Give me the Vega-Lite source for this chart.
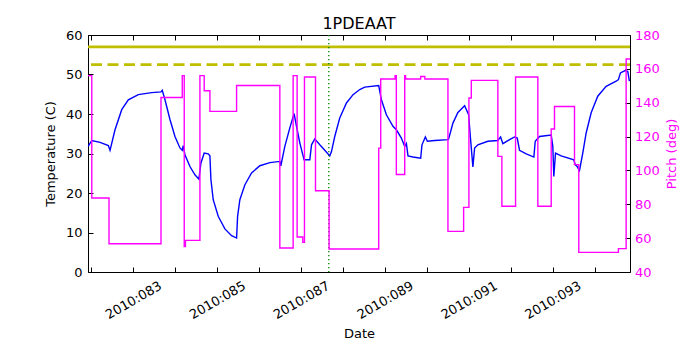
{
  "$schema": "https://vega.github.io/schema/vega-lite/v6.json",
  "width": 542,
  "height": 237,
  "autosize": "none",
  "padding": {"left": 88, "top": 35, "right": 70, "bottom": 78},
  "background": "white",
  "config": {
    "font": "DejaVu Sans",
    "view": {"stroke": "black", "strokeWidth": 1},
    "axis": {"grid": false, "domain": false, "tickColor": "black", "labelFont": "DejaVu Sans", "labelFontSize": 13, "titleFont": "DejaVu Sans", "titleFontSize": 13, "titleFontWeight": "normal", "labelColor": "black", "titleColor": "black", "tickSize": -5}
  },
  "title": {"text": "1PDEAAT", "fontSize": 16, "fontWeight": "normal", "anchor": "middle", "frame": "group", "offset": 7, "baseline": "alphabetic", "dy": 23, "color": "black", "font": "DejaVu Sans"},
  "datasets": {
    "temp": [
      {"d":81.924,"t":31.8},{"d":82.01,"t":33.3},{"d":82.207,"t":32.8},{"d":82.405,"t":32.0},{"d":82.445,"t":30.8},{"d":82.564,"t":36.0},{"d":82.724,"t":41.1},{"d":82.881,"t":43.6},{"d":83.119,"t":44.9},{"d":83.438,"t":45.4},{"d":83.66,"t":45.6},{"d":83.69,"t":46.0},{"d":83.755,"t":43.6},{"d":83.874,"t":38.6},{"d":83.993,"t":34.3},{"d":84.112,"t":31.4},{"d":84.167,"t":30.8},{"d":84.19,"t":32.0},{"d":84.231,"t":29.7},{"d":84.35,"t":26.7},{"d":84.469,"t":24.6},{"d":84.564,"t":23.5},{"d":84.612,"t":27.6},{"d":84.69,"t":30.1},{"d":84.786,"t":29.9},{"d":84.826,"t":29.4},{"d":84.85,"t":23.4},{"d":84.905,"t":18.3},{"d":85.024,"t":14.1},{"d":85.183,"t":10.9},{"d":85.343,"t":9.2},{"d":85.462,"t":8.6},{"d":85.486,"t":14.1},{"d":85.54,"t":18.3},{"d":85.66,"t":22.1},{"d":85.819,"t":25.1},{"d":86.017,"t":26.9},{"d":86.255,"t":27.7},{"d":86.493,"t":28.0},{"d":86.517,"t":26.9},{"d":86.612,"t":31.8},{"d":86.731,"t":36.5},{"d":86.833,"t":40.1},{"d":86.89,"t":36.9},{"d":86.969,"t":32.7},{"d":87.071,"t":28.4},{"d":87.207,"t":28.4},{"d":87.248,"t":32.2},{"d":87.326,"t":33.7},{"d":87.445,"t":32.2},{"d":87.564,"t":30.8},{"d":87.683,"t":29.4},{"d":87.724,"t":30.5},{"d":87.802,"t":34.3},{"d":87.921,"t":39.0},{"d":88.081,"t":42.8},{"d":88.238,"t":44.9},{"d":88.398,"t":46.2},{"d":88.517,"t":46.8},{"d":88.85,"t":47.2},{"d":88.914,"t":43.6},{"d":89.033,"t":39.8},{"d":89.19,"t":36.9},{"d":89.271,"t":36.0},{"d":89.39,"t":33.9},{"d":89.469,"t":31.8},{"d":89.51,"t":32.5},{"d":89.548,"t":29.4},{"d":89.667,"t":29.1},{"d":89.85,"t":28.8},{"d":89.881,"t":32.2},{"d":89.962,"t":34.2},{"d":90.01,"t":33.1},{"d":90.183,"t":33.3},{"d":90.5,"t":33.5},{"d":90.517,"t":33.7},{"d":90.619,"t":37.7},{"d":90.738,"t":40.4},{"d":90.898,"t":42.1},{"d":90.993,"t":39.8},{"d":91.04,"t":33.5},{"d":91.095,"t":26.6},{"d":91.136,"t":31.4},{"d":91.214,"t":32.2},{"d":91.452,"t":33.1},{"d":91.69,"t":33.3},{"d":91.755,"t":34.2},{"d":91.81,"t":32.5},{"d":91.969,"t":33.5},{"d":92.088,"t":34.2},{"d":92.152,"t":33.9},{"d":92.207,"t":30.8},{"d":92.367,"t":29.9},{"d":92.548,"t":29.1},{"d":92.581,"t":33.1},{"d":92.683,"t":34.3},{"d":92.962,"t":34.7},{"d":93.0,"t":31.8},{"d":93.024,"t":24.2},{"d":93.064,"t":30.1},{"d":93.2,"t":29.4},{"d":93.5,"t":28.4},{"d":93.533,"t":27.2},{"d":93.581,"t":26.7},{"d":93.636,"t":25.7},{"d":93.714,"t":30.1},{"d":93.795,"t":35.2},{"d":93.914,"t":40.3},{"d":94.071,"t":44.5},{"d":94.271,"t":47.0},{"d":94.51,"t":48.3},{"d":94.564,"t":48.7},{"d":94.612,"t":50.4},{"d":94.724,"t":51.0},{"d":94.786,"t":50.8},{"d":94.826,"t":48.3}
    ],
    "pitch": [
      {"d":81.92,"p":156},{"d":82.01,"p":83.7},{"d":82.421,"p":56.7},{"d":83.66,"p":143.1},{"d":84.167,"p":156},{"d":84.214,"p":55.1},{"d":84.243,"p":58.7},{"d":84.588,"p":156},{"d":84.69,"p":147.1},{"d":84.826,"p":134.9},{"d":85.462,"p":150.2},{"d":86.493,"p":54.2},{"d":86.81,"p":156},{"d":86.905,"p":60.7},{"d":87.04,"p":57.5},{"d":87.08,"p":155.2},{"d":87.343,"p":88.0},{"d":87.667,"p":53.6},{"d":88.85,"p":113.2},{"d":88.898,"p":154.0},{"d":89.24,"p":156},{"d":89.27,"p":97.6},{"d":89.47,"p":156},{"d":89.49,"p":154.0},{"d":89.85,"p":155.5},{"d":89.95,"p":154.0},{"d":90.5,"p":64.0},{"d":90.874,"p":78.2},{"d":91.0,"p":142.8},{"d":91.057,"p":153.2},{"d":91.69,"p":108.3},{"d":91.786,"p":78.8},{"d":92.112,"p":155.2},{"d":92.643,"p":78.8},{"d":92.962,"p":124.5},{"d":93.04,"p":137.8},{"d":93.517,"p":103.4},{"d":93.619,"p":51.6},{"d":94.564,"p":53.8},{"d":94.748,"p":165.8},{"d":94.84,"p":165.8}
    ],
    "limits": [{"t":57,"kind":"solid"},{"t":52.5,"kind":"dashed"}],
    "vline": [{"d":87.66}]
  },
  "layer": [
    {
      "data": {"name": "temp"},
      "mark": {"type": "line", "color": "#0000ff", "strokeWidth": 1.4, "clip": true},
      "encoding": {
        "x": {"field": "d", "type": "quantitative", "scale": {"domain": [81.92, 94.84], "nice": false, "zero": false},
          "axis": {"orient": "bottom", "values": [82,83,84,85,86,87,88,89,90,91,92,93,94], "labelExpr": "datum.value % 2 == 1 ? '2010:0' + datum.value : ''", "labelAngle": -30, "labelAlign": "center", "labelBaseline": "middle", "labelPadding": 33, "title": "Date", "titleX": 271, "titleY": 65, "titleBaseline": "alphabetic", "titleAnchor": null, "labelFlush": false, "labelOverlap": false}},
        "y": {"field": "t", "type": "quantitative", "scale": {"domain": [0, 60], "nice": false, "zero": false},
          "axis": {"orient": "left", "values": [0,10,20,30,40,50,60], "labelPadding": 11, "labelBaseline": "middle", "title": "Temperature (C)", "titleAngle": 270, "titleX": -34, "titleY": 118.5, "titleBaseline": "alphabetic", "titleAlign": "center", "labelFlush": false}}
      }
    },
    {
      "data": {"name": "limits"},
      "transform": [{"filter": "datum.kind == 'solid'"}],
      "mark": {"type": "rule", "color": "#bfbf00", "strokeWidth": 2.8},
      "encoding": {
        "y": {"field": "t", "type": "quantitative", "scale": {"domain": [0, 60], "nice": false, "zero": false}, "axis": null}
      }
    },
    {
      "data": {"name": "limits"},
      "transform": [{"filter": "datum.kind == 'dashed'"}],
      "mark": {"type": "rule", "color": "#bfbf00", "strokeWidth": 2.8, "strokeDash": [11, 5.5]},
      "encoding": {
        "y": {"field": "t", "type": "quantitative", "scale": {"domain": [0, 60], "nice": false, "zero": false}, "axis": null}
      }
    },
    {
      "data": {"name": "vline"},
      "mark": {"type": "rule", "color": "#008000", "strokeWidth": 1.3, "strokeDash": [1.3, 2.7]},
      "encoding": {
        "x": {"field": "d", "type": "quantitative", "scale": {"domain": [81.92, 94.84], "nice": false, "zero": false}, "axis": null}
      }
    },
    {
      "data": {"name": "pitch"},
      "mark": {"type": "line", "color": "#ff00ff", "strokeWidth": 1.4, "interpolate": "step-after", "clip": true},
      "encoding": {
        "x": {"field": "d", "type": "quantitative", "scale": {"domain": [81.92, 94.84], "nice": false, "zero": false},
          "axis": {"orient": "top", "values": [82,83,84,85,86,87,88,89,90,91,92,93,94], "labels": false, "title": null}},
        "y": {"field": "p", "type": "quantitative", "scale": {"domain": [40, 180], "nice": false, "zero": false},
          "axis": {"orient": "right", "values": [40,60,80,100,120,140,160,180], "labelPadding": 9.5, "labelBaseline": "middle", "labelColor": "#ff00ff", "titleColor": "#ff00ff", "title": "Pitch (deg)", "titleAngle": 270, "titleX": 45.5, "titleY": 118.5, "titleBaseline": "alphabetic", "titleAlign": "center", "labelFlush": false}}
      }
    }
  ],
  "resolve": {"scale": {"y": "independent"}, "axis": {"x": "independent", "y": "independent"}}
}
